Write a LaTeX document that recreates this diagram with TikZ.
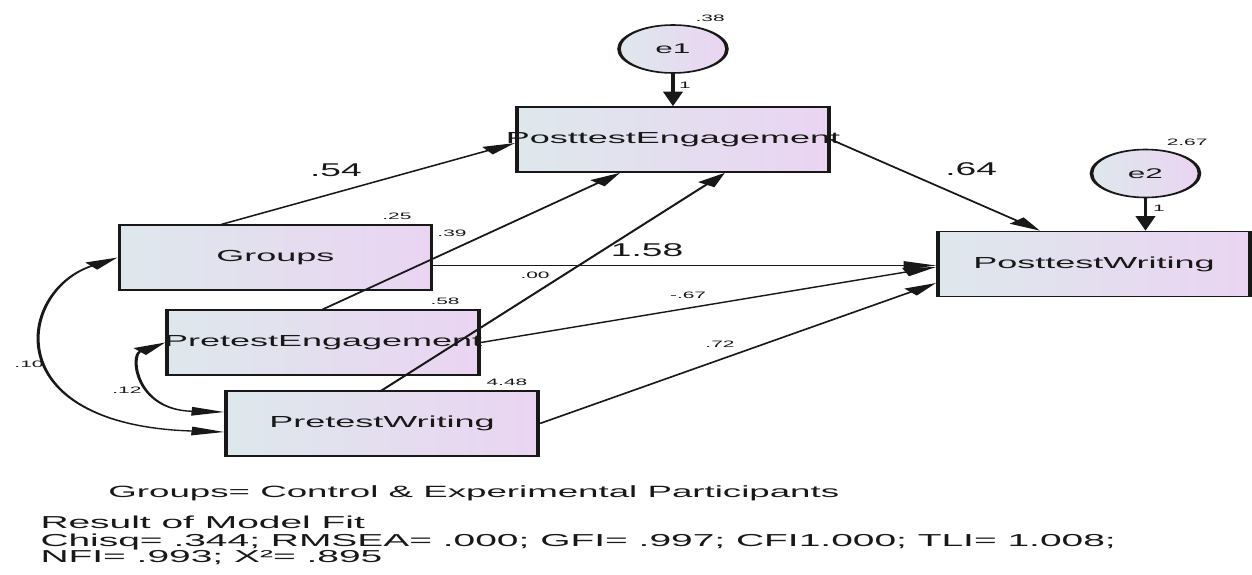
\documentclass[tikz,border=0pt]{standalone}
\usepackage{fontspec}
\setmainfont{Liberation Sans}
\usetikzlibrary{arrows.meta,calc}
\definecolor{boxL}{RGB}{222,232,236}
\definecolor{boxR}{RGB}{234,212,242}
\definecolor{ink}{RGB}{24,24,24}
\newcommand\tallx[1]{\scalebox{1}[1.12]{#1}}
\tikzset{
  obs/.style={draw=ink, line width=1.6pt, left color=boxL, right color=boxR,
    minimum width=138.7pt, minimum height=65pt, inner sep=0pt,
    font=\fontsize{16}{19}\selectfont, text=ink},
  errc/.style={circle, draw=ink, line width=1.6pt, left color=boxL, right color=boxR,
    minimum size=48pt, inner sep=0pt, font=\fontsize{14}{16}\selectfont, text=ink},
  reg/.style={draw=ink, line width=1.35pt, -{Triangle[length=14.5pt,width=8.5pt]}},
  cov/.style={draw=ink, line width=1.35pt,
    {Triangle[length=14.5pt,width=8.5pt]}-{Triangle[length=14.5pt,width=8.5pt]}},
  lblS/.style={font=\fontsize{9.3}{10}\selectfont, text=ink, inner sep=0pt},
  lblB/.style={font=\fontsize{16.5}{18}\selectfont, text=ink, inner sep=0pt},
  note/.style={anchor=base west, inner sep=0pt, text=ink}
}
\begin{document}
\begin{tikzpicture}[x=1pt,y=-1pt]
\useasboundingbox (0,0) rectangle (1252,575);
\begin{scope}[transform canvas={xscale=2.25}]
  % observed variables
  \node[obs] (PE)  at (299.1,139.5) {\makebox[0pt]{PosttestEngagement}};
  \node[obs] (G)   at (122.4,257.5) {\makebox[0pt]{Groups}};
  \node[obs] (PrE) at (143.6,342.5) {\makebox[0pt]{PretestEngagement}};
  \node[obs] (PW)  at (169.8,423.5) {\makebox[0pt]{PretestWriting}};
  \node[obs] (PoW) at (486.2,264)   {\makebox[0pt]{PosttestWriting}};
  % error terms
  \node[errc] (e1) at (299.1,49)    {e1};
  \node[errc] (e2) at (509.1,173.5) {e2};
  % regression paths
  \draw[reg] ($(G.north)+(-23.7,0)$) -- ($(PE.west)+(0,3.5)$);
  \draw[reg] (PrE.north) -- ($(PE.south)+(-23.5,0)$);
  \draw[reg] (PW.north) -- ($(PE.south)+(23.1,0)$);
  \draw[reg] (PE.east) -- ($(PoW.north)+(-24,0)$);
  \draw[reg] ($(G.east)+(0,8)$) -- ($(PoW.west)+(0,1.5)$);
  \draw[reg] (PrE.east) -- ($(PoW.west)+(0,3)$);
  \draw[reg] (PW.east) -- ($(PoW.west)+(0,19)$);
  \draw[reg] (e1.south) -- (PE.north);
  \draw[reg] (e2.south) -- (e2.south |- PoW.north);
  % covariances
  \draw[cov] (G.west) .. controls (8,290) and (-2.5,425) .. ($(PW.west)+(0,8.5)$);
  \draw[cov] (PrE.west) .. controls (57.8,355) and (60,410) .. ($(PW.west)+(0,-11.5)$);
  % labels
  \node[lblS] (l38)  at (315.6,18)  {.38};
  \node[lblS] (l267) at (527.6,142) {2.67};
  \node[lblS] (l1a)  at (304.4,85)  {1};
  \node[lblS] (l1b)  at (515.1,208) {1};
  \node[lblB] (l54)  at (149.3,170) {\tallx{.54}};
  \node[lblB] (l64)  at (431.6,169) {\tallx{.64}};
  \node[lblB] (l158) at (287.6,250) {\tallx{1.58}};
  \node[lblS] (l25)  at (176.4,216) {.25};
  \node[lblS] (l39)  at (200.9,233) {.39};
  \node[lblS] (l00)  at (237.8,275) {.00};
  \node[lblS] (l67)  at (305.8,295) {-.67};
  \node[lblS] (l72)  at (320,344)   {.72};
  \node[lblS] (l58)  at (197.8,301) {.58};
  \node[lblS] (l448) at (225.3,382) {4.48};
  \node[lblS] (l10)  at (12.9,364)  {.10};
  \node[lblS] (l12)  at (56.4,390)  {.12};
  % notes
  \node[note, font=\fontsize{16.3}{18}\selectfont] (cap) at (48,497) {Groups= Control \& Experimental Participants};
  \node[note, font=\fontsize{17.3}{18}\selectfont] (r1) at (17.8,528) {Result of Model Fit};
  \node[note, font=\fontsize{17.3}{18}\selectfont] (r2) at (17.8,546) {Chisq= .344; RMSEA= .000; GFI= .997; CFI1.000; TLI= 1.008;};
  \node[note, font=\fontsize{17.3}{18}\selectfont] (r3) at (17.8,562) {NFI= .993; X²= .895};
\end{scope}
\end{tikzpicture}
\end{document}
